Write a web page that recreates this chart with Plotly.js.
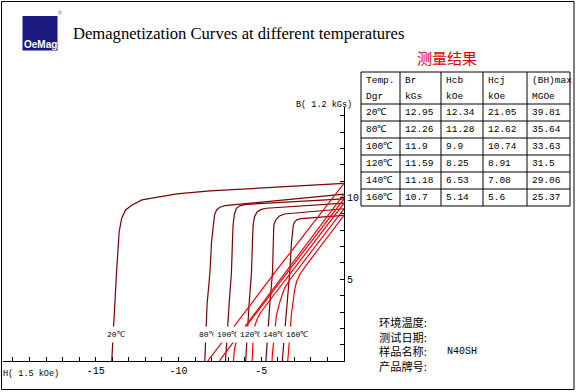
<!DOCTYPE html>
<html><head><meta charset="utf-8">
<script src="https://cdn.plot.ly/plotly-3.0.1.min.js"></script>
<style>body{margin:0;background:#fff}#chart{width:576px;height:392px}</style>
</head><body><div id="chart"></div>
<script>
// ---------- DATA (axis units: H in 1.5 kOe, B in 1.2 kGs) ----------
const temps = ['20℃','80℃','100℃','120℃','140℃','160℃'];
const tableBr = ['12.95','12.26','11.9','11.59','11.18','10.7'];
const tableHcb = ['12.34','11.28','9.9','8.25','6.53','5.14'];
const tableHcj = ['21.05','12.62','10.74','8.91','7.08','5.6'];
const tableBHmax = ['39.81','35.64','33.63','31.5','29.06','25.37'];
const headerTop = ['Temp.','Br','Hcb','Hcj','(BH)max'];
const headerBottom = ['Dgr','kGs','kOe','kOe','MGOe'];

// intrinsic (J) curves
const j20H = [0,-4,-8.1,-10.1,-11.4,-12.2,-12.8,-13.2,-13.43,-13.58,-13.74,-13.88,-14.03];
const j20B = [10.88,10.65,10.41,10.23,10.0,9.86,9.55,9.25,8.74,7.92,5.47,2.82,0];
const j80H = [0,-3.5,-7.2,-7.5,-7.7,-7.82,-7.9,-8.0,-8.1,-8.27,-8.41];
const j80B = [10.22,9.88,9.51,9.41,9.25,8.95,8.33,7.3,5.4,3.5,0];
const j100H = [0,-3.0,-5.9,-6.3,-6.5,-6.62,-6.7,-6.74,-6.8,-6.94,-7.16];
const j100B = [9.92,9.75,9.59,9.5,9.35,9.0,8.33,7.3,5.4,3.5,0];
const j120H = [0,-2.5,-4.68,-5.0,-5.25,-5.4,-5.49,-5.53,-5.59,-5.73,-5.94];
const j120B = [9.66,9.5,9.35,9.28,9.13,8.85,8.33,7.3,5.4,3.5,0];
const j140H = [0,-1.8,-3.28,-3.6,-3.9,-4.12,-4.24,-4.28,-4.32,-4.48,-4.72];
const j140B = [9.32,9.18,9.06,9.0,8.88,8.65,8.33,7.3,5.4,3.5,0];
const j160H = [0,-1.2,-2.27,-2.6,-2.85,-2.98,-3.06,-3.17,-3.28,-3.44,-3.73];
const j160B = [8.92,8.83,8.76,8.72,8.65,8.52,8.33,7.3,5.4,3.5,0];

// normal (B) curves
const b20H = [0,-4,-8.23];
const b20B = [10.88,5.65,0];
const b80H = [0,-3.5,-7.0,-7.3,-7.45,-7.52];
const b80B = [10.22,5.5,0.78,0.36,0.12,0];
const b100H = [0,-3.0,-5.9,-6.3,-6.5,-6.62,-6.68];
const b100B = [9.92,6.0,2.2,1.62,1.22,0.73,0];
const b120H = [0,-2.5,-4.68,-5.0,-5.25,-5.4,-5.49,-5.55];
const b120B = [9.66,6.38,3.5,3.03,2.57,2.1,1.3,0];
const b140H = [0,-1.8,-3.28,-3.6,-3.88,-4.08,-4.22,-4.32,-4.35];
const b140B = [9.32,6.93,4.96,4.45,3.6,2.8,1.6,0.5,0];
const b160H = [0,-1.2,-2.37,-2.67,-2.87,-2.98,-3.17,-3.28,-3.4];
const b160B = [8.92,7.33,5.75,5.3,4.85,4.35,2.92,1.49,0];

const yTickVals = [5,10];
const yTickText = ['5','10'];
const xTickVals = [-15,-10,-5];
const xTickText = ['-15','-10','-5'];

const infoLabels = ['环境温度:','测试日期:','样品名称:','产品牌号:'];
const infoValues = ['','','N40SH',''];

// ---------- LAYOUT HELPERS ----------
const L = 3, T = 107, W = 341, HH = 254;
const fx = p => (p - L) / W;
const fy = p => (T + HH - p) / HH;
const mono = 'Liberation Mono, DejaVu Sans Mono, monospace';

const traces = [];
const jSeries = [[j20H,j20B],[j80H,j80B],[j100H,j100B],[j120H,j120B],[j140H,j140B],[j160H,j160B]];
const bSeries = [[b20H,b20B],[b80H,b80B],[b100H,b100B],[b120H,b120B],[b140H,b140B],[b160H,b160B]];
jSeries.forEach(s => traces.push({type:'scatter',mode:'lines',x:s[0],y:s[1],line:{color:'#800000',width:1.2},hoverinfo:'skip'}));
bSeries.forEach(s => traces.push({type:'scatter',mode:'lines',x:s[0],y:s[1],line:{color:'#ff0000',width:1.2},hoverinfo:'skip'}));

const shapes = [];
const annotations = [];
function rectPx(x0,y0,x1,y1,opts){shapes.push(Object.assign({type:'rect',xref:'paper',yref:'paper',x0:fx(x0),x1:fx(x1),y0:fy(y0),y1:fy(y1),line:{color:'#000',width:1}},opts||{}));}
function linePx(x0,y0,x1,y1){shapes.push({type:'line',xref:'paper',yref:'paper',x0:fx(x0),x1:fx(x1),y0:fy(y0),y1:fy(y1),line:{color:'#000',width:1}});}
function textPx(x,y,txt,font,xanchor,extra){annotations.push(Object.assign({xref:'paper',yref:'paper',x:fx(x),y:fy(y),text:txt,showarrow:false,xanchor:xanchor||'left',yanchor:'middle',font:font},extra||{}));}

// image border
rectPx(1.5,1.5,574,389.5,{line:{color:'#000',width:1}});
// logo
rectPx(22.5,16,57.5,50.5,{line:{width:0},fillcolor:'#1b1980'});
textPx(40,44.5,'<b>OeMag</b>',{family:'Liberation Sans, Arial',size:10,color:'#fff'},'center');
textPx(59.5,13,'®',{family:'Liberation Sans',size:5,color:'#555'},'center');
// title
annotations.push({xref:'paper',yref:'paper',x:fx(71),y:fy(33),text:'Demagnetization Curves at different temperatures',showarrow:false,xanchor:'left',yanchor:'middle',font:{family:'Liberation Serif, Times New Roman, serif',size:16.6,color:'#000'}});
// red table title
textPx(446.5,58,'测量结果',{family:'Noto Sans CJK SC',size:15,color:'#e00000'},'center');

// table
const xEdges = [361,400,441,483,527,570];
const yEdges = [72,104,121,138,155,172,189,206];
rectPx(xEdges[0],yEdges[0],xEdges[xEdges.length-1],yEdges[yEdges.length-1]);
xEdges.slice(1,-1).forEach(x => linePx(x,yEdges[0],x,yEdges[yEdges.length-1]));
yEdges.slice(1,-1).forEach(y => linePx(xEdges[0],y,xEdges[xEdges.length-1],y));
const tFont = {family:mono,size:9.5,color:'#000'};
headerTop.forEach((h,i) => {
  textPx(xEdges[i]+3,81,h,tFont);
  textPx(xEdges[i]+3,96,headerBottom[i],tFont);
});
const cols = [temps,tableBr,tableHcb,tableHcj,tableBHmax];
cols.forEach((col,c) => col.forEach((v,r) => {
  textPx(xEdges[c]+3,(yEdges[r+1]+yEdges[r+2])/2,v,tFont);
}));

// temperature labels on the chart
const labelLeftPx = [103,195,213,236,259,282];
temps.forEach((t,i) => textPx(labelLeftPx[i],334,t,{family:mono,size:8,color:'#000'},'left',{bgcolor:'#fff',borderpad:3}));

// axis titles
textPx(324,105,'B( 1.2 kGs)',{family:mono,size:8.5,color:'#000'},'center');
textPx(31,374,'H( 1.5 kOe)',{family:mono,size:8.5,color:'#000'},'center');

// info block (one multi-line text, line pitch ~14.5px)
textPx(377,343.5,infoLabels.join('<br>'),{family:'Noto Sans CJK SC',size:11.2,color:'#000'},'left',{align:'left'});
infoValues.forEach((v,i) => {
  if (v) textPx(445,322+i*14.5,v,{family:mono,size:10,color:'#000'});
});

const layout = {
  width:576,height:392,
  margin:{l:L,r:576-L-W,t:T,b:392-T-HH,pad:0},
  paper_bgcolor:'#fff',plot_bgcolor:'#fff',
  showlegend:false,
  xaxis:{range:[-20.6,0],showgrid:false,zeroline:false,showline:true,linecolor:'#000',linewidth:1,
    ticks:'inside',ticklen:4,tickcolor:'#000',tickvals:xTickVals,ticktext:xTickText,
    minor:{dtick:1,ticks:'inside',ticklen:4,tickcolor:'#000',showgrid:false},
    tickfont:{family:mono,size:10,color:'#000'},automargin:false,fixedrange:true},
  yaxis:{range:[0,15.55],side:'right',showgrid:false,zeroline:false,showline:true,linecolor:'#000',linewidth:1,
    ticks:'inside',ticklen:4,tickcolor:'#000',tickvals:yTickVals,ticktext:yTickText,
    minor:{dtick:1,ticks:'inside',ticklen:4,tickcolor:'#000',showgrid:false},
    tickfont:{family:mono,size:10,color:'#000'},automargin:false,fixedrange:true},
  shapes:shapes,
  annotations:annotations
};
Plotly.newPlot('chart',traces,layout,{displayModeBar:false,staticPlot:true});
</script></body></html>
